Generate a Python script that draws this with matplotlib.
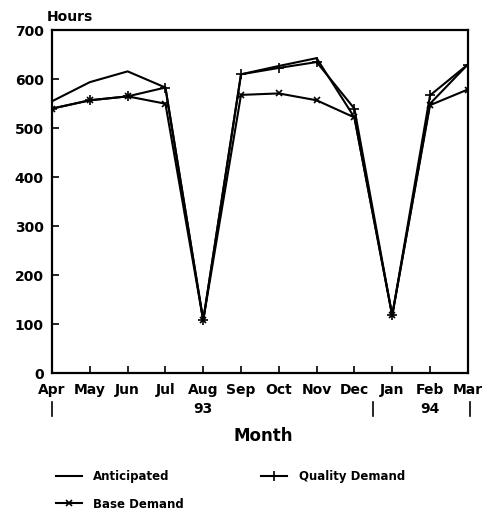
import matplotlib
matplotlib.use("Agg")
import matplotlib.pyplot as plt

months = ["Apr", "May", "Jun", "Jul", "Aug", "Sep", "Oct", "Nov", "Dec", "Jan", "Feb", "Mar"]
anticipated = [555, 594, 616, 583, 108, 610, 627, 643, 522, 118, 550, 630]
quality_demand = [540, 557, 565, 583, 108, 610, 623, 635, 540, 118, 567, 630]
base_demand = [540, 557, 565, 550, 108, 568, 571, 557, 522, 118, 547, 579]
y_ticks = [0, 100, 200, 300, 400, 500, 600, 700]
year_labels = {"Aug": "93", "Feb": "94"}

plt.rcParams['font.family'] = ['DejaVu Sans']
plt.rcParams['font.weight'] = 'bold'

fig = plt.figure(figsize=(4.88, 5.12), dpi=100)
ax = fig.add_axes([0.1066, 0.271, 0.852, 0.670])
x = list(range(len(months)))

l1, = ax.plot(x, anticipated, color='black', lw=1.5, label='Anticipated')
l2, = ax.plot(x, quality_demand, color='black', lw=1.5, marker='+', ms=7, mew=1.2, label='Quality Demand')
l3, = ax.plot(x, base_demand, color='black', lw=1.5, marker='x', ms=5, mew=1.2, label='Base Demand')

ax.set_xlim(0, len(months) - 1)
ax.set_ylim(0, 700)
ax.set_yticks(y_ticks)
ax.set_yticklabels([str(v) for v in y_ticks], fontsize=10, fontweight='bold')
ax.set_xticks(x)
ax.set_xticklabels(months, fontsize=10, fontweight='bold')
ax.tick_params(direction='in', length=5, width=1.2, pad=6)
ax.tick_params(axis='x', pad=7)
for s in ax.spines.values():
    s.set_linewidth(1.6)

# year labels and separators below axis
for m, yl in year_labels.items():
    ax.text(months.index(m), -0.085, yl, transform=ax.get_xaxis_transform(),
            ha='center', va='top', fontsize=10, fontweight='bold')
for xs in [0, 8.5, 11.05]:
    ax.plot([xs, xs], [-0.085, -0.125], transform=ax.get_xaxis_transform(),
            color='black', lw=1.2, clip_on=False)

fig.text(47 / 488, 1 - 17 / 512, "Hours", ha='left', va='center', fontsize=10, fontweight='bold')
fig.text(263 / 488, 1 - 436 / 512, "Month", ha='center', va='center', fontsize=12, fontweight='bold')

fig.legend(handles=[l1, l3, l2], ncol=2, loc='lower left', bbox_to_anchor=(45 / 488, -0.018),
           frameon=False, handlelength=2.2, columnspacing=6.5, handletextpad=1.0,
           labelspacing=1.25, prop={'weight': 'bold', 'size': 8.5})

fig.savefig("out.png", dpi=100)
